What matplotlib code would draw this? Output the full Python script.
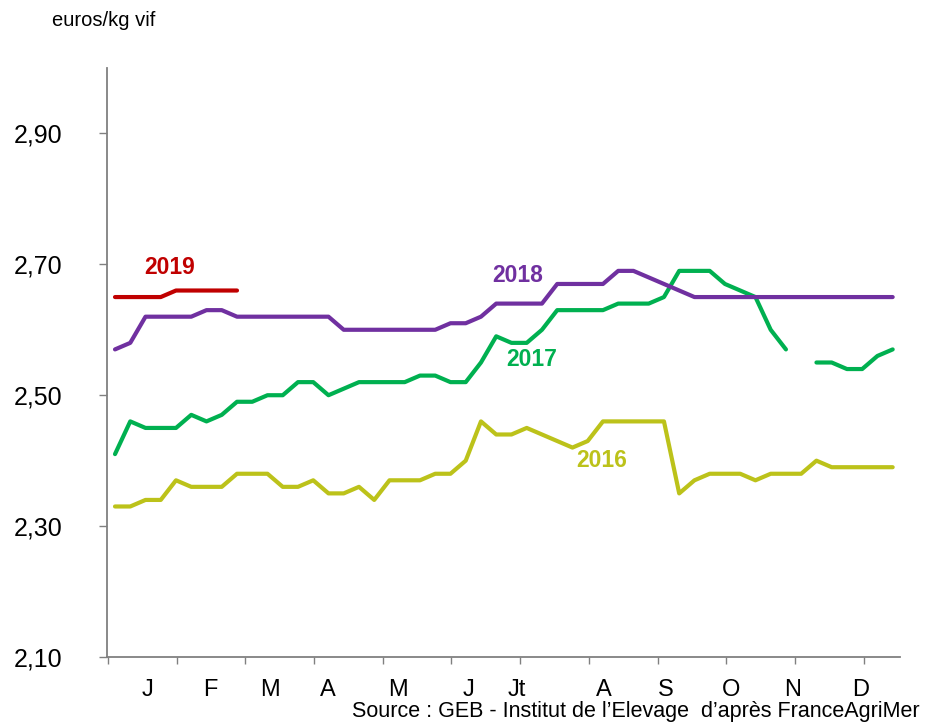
import numpy as np
import matplotlib
matplotlib.use("Agg")
import matplotlib.pyplot as plt

# --- data: weekly price, euros/kg vif ---
weeks = np.arange(1, 53)

y2016 = [2.33, 2.33, 2.34, 2.34, 2.37, 2.36, 2.36, 2.36, 2.38, 2.38,
         2.38, 2.36, 2.36, 2.37, 2.35, 2.35, 2.36, 2.34, 2.37, 2.37,
         2.37, 2.38, 2.38, 2.40, 2.46, 2.44, 2.44, 2.45, 2.44, 2.43,
         2.42, 2.43, 2.46, 2.46, 2.46, 2.46, 2.46, 2.35, 2.37, 2.38,
         2.38, 2.38, 2.37, 2.38, 2.38, 2.38, 2.40, 2.39, 2.39, 2.39,
         2.39, 2.39]

y2017 = [2.41, 2.46, 2.45, 2.45, 2.45, 2.47, 2.46, 2.47, 2.49, 2.49,
         2.50, 2.50, 2.52, 2.52, 2.50, 2.51, 2.52, 2.52, 2.52, 2.52,
         2.53, 2.53, 2.52, 2.52, 2.55, 2.59, 2.58, 2.58, 2.60, 2.63,
         2.63, 2.63, 2.63, 2.64, 2.64, 2.64, 2.65, 2.69, 2.69, 2.69,
         2.67, 2.66, 2.65, 2.60, 2.57, np.nan, 2.55, 2.55, 2.54, 2.54,
         2.56, 2.57]

y2018 = [2.57, 2.58, 2.62, 2.62, 2.62, 2.62, 2.63, 2.63, 2.62, 2.62,
         2.62, 2.62, 2.62, 2.62, 2.62, 2.60, 2.60, 2.60, 2.60, 2.60,
         2.60, 2.60, 2.61, 2.61, 2.62, 2.64, 2.64, 2.64, 2.64, 2.67,
         2.67, 2.67, 2.67, 2.69, 2.69, 2.68, 2.67, 2.66, 2.65, 2.65,
         2.65, 2.65, 2.65, 2.65, 2.65, 2.65, 2.65, 2.65, 2.65, 2.65,
         2.65, 2.65]

y2019 = [2.65, 2.65, 2.65, 2.65, 2.66, 2.66, 2.66, 2.66, 2.66]

months = ["J", "F", "M", "A", "M", "J", "Jt", "A", "S", "O", "N", "D"]
yticks = [2.10, 2.30, 2.50, 2.70, 2.90]

# --- style ---
NARROW = ["Liberation Sans Narrow", "Liberation Sans", "DejaVu Sans"]
plt.rcParams["font.family"] = NARROW

c2016 = "#BCC21A"
c2017 = "#00B050"
c2018 = "#7030A0"
c2019 = "#C00000"
axis_col = "#808080"

fig = plt.figure(figsize=(9.39, 7.25), dpi=100)
ax = fig.add_axes([107 / 939, 68 / 725, 793 / 939, 589 / 725])

lw = 3.0
for ys, col in [(y2016, c2016), (y2017, c2017), (y2018, c2018)]:
    ax.plot(weeks, ys, color=col, lw=lw, solid_capstyle="round", solid_joinstyle="round")
ax.plot(weeks[:len(y2019)], y2019, color=c2019, lw=lw, solid_capstyle="round", solid_joinstyle="round")

ax.set_xlim(0.475, 52.48)
ax.set_ylim(2.10, 3.00)

# y axis
ax.set_yticks(yticks)
ax.set_yticklabels([f"{v:.2f}".replace(".", ",") for v in yticks])
ax.tick_params(axis="y", direction="out", length=6, width=1, color=axis_col,
               pad=26, labelsize=18, labelcolor="black")

# x axis: month boundaries as ticks, labels in between
bounds = 0.54 + 4.505 * np.arange(12)
ax.set_xticks(bounds)
ax.set_xticklabels([])
ax.tick_params(axis="x", which="major", direction="out", length=5, width=1, color=axis_col)
label_pos = [3.16, 7.23, 11.16, 14.97, 19.56, 24.21, 27.36, 33.07, 37.13, 41.39, 45.46, 49.92]
ax.set_xticks(label_pos, minor=True)
ax.set_xticklabels(months, minor=True)
ax.tick_params(axis="x", which="minor", length=0, pad=16, labelsize=17)

for side in ["top", "right"]:
    ax.spines[side].set_visible(False)
for side in ["left", "bottom"]:
    ax.spines[side].set_color(axis_col)
    ax.spines[side].set_linewidth(1.3)

# series labels
lab = dict(fontsize=16.5, fontweight="bold", ha="center", va="center")
ax.text(4.6, 2.695, "2019", color=c2019, **lab)
ax.text(27.4, 2.683, "2018", color=c2018, **lab)
ax.text(28.3, 2.555, "2017", color=c2017, **lab)
ax.text(32.9, 2.400, "2016", color=c2016, **lab)

fig.text(52 / 939, 1 - 20 / 725, "euros/kg vif", fontsize=14.5, ha="left", va="center")
fig.text(920 / 939, 1 - 712 / 725, "Source : GEB - Institut de l\u2019Elevage  d\u2019apr\u00e8s FranceAgriMer",
         fontsize=15.5, ha="right", va="center")

fig.savefig("out.png", dpi=100)
